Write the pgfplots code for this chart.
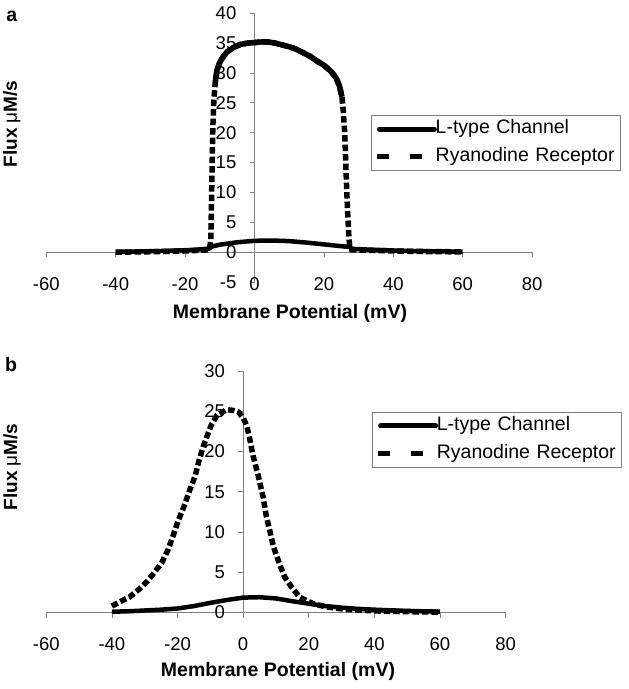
\documentclass[border=0pt]{standalone}
\usepackage{fontspec}
\setmainfont{Liberation Sans}
\usepackage{pgfplots}
\pgfplotsset{compat=1.18}
\definecolor{axgray}{HTML}{808080}
\newcommand{\tfont}{\fontsize{18.5bp}{22bp}\selectfont}
\newcommand{\lfont}{\fontsize{19.5bp}{22bp}\selectfont}
\pgfplotsset{
  panel/.style={
    scale only axis,
    axis x line=middle, axis y line=middle,
    axis line style={-, draw=axgray, line width=0.8bp},
    hide obscured x ticks=false, hide obscured y ticks=false,
    clip=false,
    xmin=-60, xmax=80,
    xtick={-60,-40,...,80},
    tick align=outside,
    major tick length=5bp,
    tick style={draw=axgray, line width=0.8bp},
    /pgf/number format/assume math mode=true,
    tick label style={font=\tfont, text=black},
    xticklabel style={anchor=center, inner sep=0pt, yshift=-27bp},
    yticklabel style={anchor=east, inner sep=0pt, xshift=-13bp},
    legend cell align=left,
    legend style={draw=axgray, line width=0.8bp, fill=white, anchor=north west,
      inner xsep=3bp, inner ysep=0bp, font=\lfont, row sep=0pt, column sep=-4bp,
      nodes={inner xsep=0bp, inner ysep=5bp, text height=13.5bp, text depth=4bp,
        text width=182bp, align=left}},
  },
  ltype/.style={black, line width=4.5bp, line join=round,
    legend image code/.code={\draw[black, line width=5bp, line cap=round] (2.5bp,0bp) -- (57.5bp,0bp);}},
  ryr/.style={black, line width=5.5bp, dash pattern=on 6.5bp off 3bp,
    legend image code/.code={\draw[black, line width=5.5bp, dash pattern=on 12bp off 21bp] (0bp,0bp) -- (60bp,0bp);}},
}
\begin{document}
\begin{tikzpicture}
\useasboundingbox (0,0) rectangle (629bp,-689bp);
% ---------------- panel a
\begin{axis}[panel,
  at={(46.3bp,-282bp)}, anchor=south west,
  width=485.8bp, height=268.7bp,
  ymin=-5, ymax=40, ytick={-5,0,...,40},
  legend style={at={(0.668,0.6215)}},
]
\addplot[ltype] coordinates {
(-40,0.05) (-35,0.1) (-30,0.15) (-25,0.22) (-20,0.32) (-16,0.45) (-13,0.6)
(-12.5,0.9) (-10,1.25) (-5,1.65) (0,1.9) (5,1.95) (10,1.85) (15,1.6) (20,1.3)
(25,1.0) (27.5,0.85) (28,0.55) (30,0.5) (35,0.38) (40,0.28) (45,0.2) (50,0.15)
(55,0.11) (60,0.08)};
\addlegendentry{L-type Channel}
\addplot[ryr] coordinates {
(-40,0) (-35,0.03) (-30,0.07) (-25,0.12) (-20,0.2) (-16,0.3) (-13,0.4)
(-12.6,2) (-12.4,8) (-12.2,15) (-12.0,21) (-11.7,25.5) (-11.3,28.5) (-10.8,30.5)
(-10,31.8) (-9.4,32.4) (-8,33.5) (-6,34.3) (-4,34.8) (-2,35.0) (0,35.1) (2,35.2)
(4,35.2) (6,35.0) (8,34.7) (10,34.4) (12,34.0) (14,33.4) (16,32.8) (18,32.0)
(20,31.3) (22,30.3) (23.5,29.2) (24.5,27.8) (25.2,26) (25.6,23.5) (26,20)
(26.3,15) (26.6,10) (26.9,6) (27.2,2.5) (27.5,0.6) (28,0.4) (30,0.35) (35,0.27)
(40,0.2) (45,0.14) (50,0.1) (55,0.07) (60,0.05)};
\addlegendentry{Ryanodine Receptor}
\addplot[black, line width=5.5bp, line join=round, forget plot] coordinates {
(-11.3,28.5) (-10.8,30.5) (-10,31.8) (-9.4,32.4) (-8,33.5) (-6,34.3) (-4,34.8)
(-2,35.0) (0,35.1) (2,35.2) (4,35.2) (6,35.0) (8,34.7) (10,34.4) (12,34.0)
(14,33.4) (16,32.8) (18,32.0) (20,31.3) (22,30.3) (23.5,29.2) (24.5,27.8) (25.2,26)};
\end{axis}
% ---------------- panel b
\begin{axis}[panel,
  at={(46.3bp,-612.5bp)}, anchor=south west,
  width=459.3bp, height=241.5bp,
  ymin=0, ymax=30, ytick={0,5,...,30},
  legend style={at={(0.709,0.8315)}},
]
\addplot[ltype] coordinates {
(-40,0.1) (-35,0.15) (-30,0.25) (-25,0.35) (-20,0.5) (-15,0.8) (-10,1.2)
(-5,1.55) (0,1.85) (5,1.9) (10,1.75) (15,1.4) (20,1.1) (25,0.8) (30,0.6)
(35,0.45) (40,0.35) (45,0.27) (50,0.2) (55,0.15) (60,0.1)};
\addlegendentry{L-type Channel}
\addplot[ryr] coordinates {
(-40,0.8) (-37,1.45) (-34.7,1.9) (-32,2.8) (-29.4,3.8) (-26.8,5.1) (-24.8,6.2)
(-23,7.7) (-21.2,9.7) (-19.9,11.3) (-18,13.2) (-16.2,15.3) (-14.6,17)
(-13.5,18.8) (-12.1,20.7) (-9.8,23.2) (-8,24.5) (-5,25.2) (-3,25.1) (-1.4,24.9)
(0,24.2) (1.1,23.2) (2,21.6) (3,19.5) (4.6,17) (6.1,14.3) (7.1,11.9) (8.1,10.2)
(9.3,8.1) (11.2,5.9) (12.7,4.4) (14.7,3.2) (17.2,1.9) (21.3,1.1) (25.3,0.7)
(30,0.45) (35,0.3) (40,0.2) (50,0.1) (60,0.05)};
\addlegendentry{Ryanodine Receptor}
\end{axis}
% ---------------- titles
\node[font=\fontsize{19.5bp}{22bp}\selectfont\bfseries] at (11.7bp,-16.7bp) {a};
\node[font=\fontsize{19.5bp}{22bp}\selectfont\bfseries] at (11bp,-365bp) {b};
\node[font=\fontsize{19.5bp}{22bp}\selectfont\bfseries] at (290bp,-313bp) {Membrane Potential (mV)};
\node[font=\fontsize{19.5bp}{22bp}\selectfont\bfseries] at (278bp,-671.7bp) {Membrane Potential (mV)};
\node[rotate=90, font=\fontsize{19bp}{22bp}\selectfont\bfseries] at (11.7bp,-124bp) {Flux {\mdseries μ}M/s};
\node[rotate=90, font=\fontsize{19bp}{22bp}\selectfont\bfseries] at (12bp,-467bp) {Flux {\mdseries μ}M/s};
\end{tikzpicture}
\end{document}
